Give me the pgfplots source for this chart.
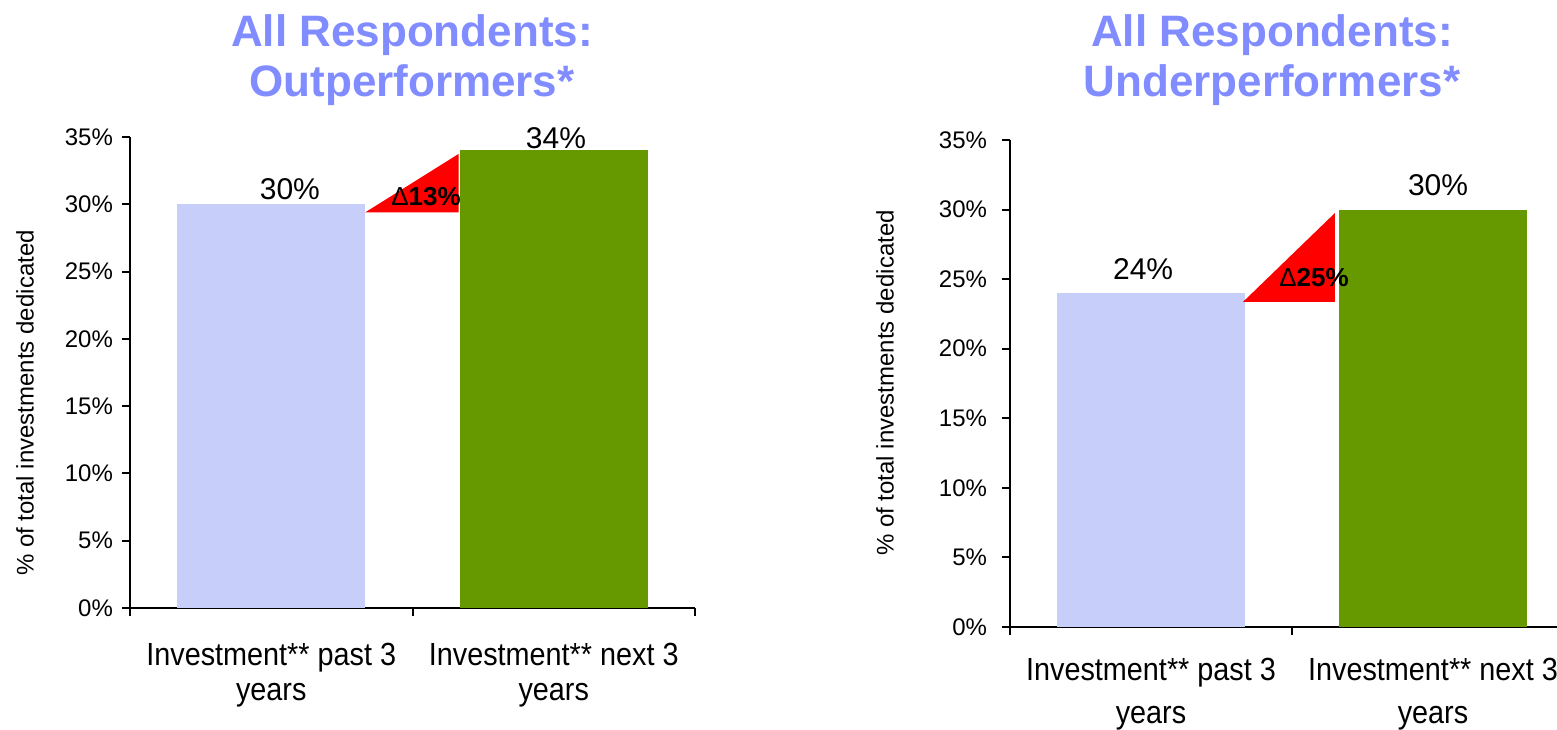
\documentclass[border=0pt]{standalone}
\usepackage{pgfplots}
\pgfplotsset{compat=1.18}
\usepackage{fontspec}
\setmainfont{Liberation Sans}
\newfontfamily\ticknarrow[FakeStretch=0.9]{Liberation Sans}
\definecolor{titleblue}{RGB}{128,140,255}
\definecolor{lav}{RGB}{200,206,250}
\definecolor{grn}{RGB}{102,153,0}
\pgfplotsset{mystyle/.style={
  scale only axis, xmin=-0.5, xmax=1.5, ymin=0, ymax=35,
  axis x line*=bottom, axis y line*=left,
  axis line style={black, line width=1pt},
  ytick={0,5,...,35},
  /pgf/number format/assume math mode=true,
  yticklabel={\pgfmathprintnumber{\tick}\%},
  xtick={0,1},
  minor xtick={-0.5,0.5,1.5},
  every major x tick/.append style={draw=none},
  tick align=outside, major tick length=4pt, minor tick length=4pt,
  tick style={black, line width=1pt},
  yticklabel style={font=\fontsize{12}{14}\selectfont},
  xticklabel style={font=\ticknarrow\fontsize{16}{17.5}\selectfont, align=center},
  clip=false,
}}
\begin{document}
\begin{tikzpicture}
\useasboundingbox (0pt,0pt) rectangle (778.5pt,364.5pt);
\clip (0pt,0pt) rectangle (778.5pt,364.5pt);
% titles
\node[anchor=base, font=\bfseries\fontsize{22}{25}\selectfont, text=titleblue] at (206pt,341pt) {All Respondents:};
\node[anchor=base, font=\bfseries\fontsize{22}{25}\selectfont, text=titleblue] at (206pt,316pt) {Outperformers*};
\node[anchor=base, font=\bfseries\fontsize{22}{25}\selectfont, text=titleblue] at (636pt,341pt) {All Respondents:};
\node[anchor=base, font=\bfseries\fontsize{22}{25}\selectfont, text=titleblue] at (636pt,316pt) {Underperformers*};
% y labels
\node[rotate=90, font=\fontsize{12}{14}\selectfont] at (12.5pt,163pt) {\% of total investments dedicated};
\node[rotate=90, font=\fontsize{12}{14}\selectfont] at (442.5pt,173pt) {\% of total investments dedicated};

\begin{axis}[mystyle, at={(65pt,60.5pt)}, anchor=south west, width=282.5pt, height=235.5pt,
  xticklabels={Investment** past 3\\years, Investment** next 3\\years},
  xticklabel style={yshift=-10pt},
  yticklabel style={xshift=-1pt}]
\addplot[ybar, bar width=0.665, bar shift=0, fill=lav, draw=none] coordinates {(0,30)};
\addplot[ybar, bar width=0.665, bar shift=0, fill=grn, draw=none] coordinates {(1,34)};
\fill[red] (axis cs:0.332,29.39) -- (axis cs:0.663,29.39) -- (axis cs:0.663,33.74) -- cycle;
\node[anchor=base, font=\fontsize{15}{18}\selectfont] at (axis cs:0.066,30.32) {30\%};
\node[anchor=base, font=\fontsize{15}{18}\selectfont] at (axis cs:1.008,34.11) {34\%};
\node[font=\fontsize{13}{15}\selectfont] at (axis cs:0.548,30.58) {Δ\textbf{13\%}};
\end{axis}

\begin{axis}[mystyle, at={(505pt,51pt)}, anchor=south west, width=282pt, height=243.5pt,
  xticklabels={Investment** past 3\\[4pt]years, Investment** next 3\\[4pt]years},
  xticklabel style={yshift=-8pt},
  yticklabel style={xshift=-4pt}]
\addplot[ybar, bar width=0.67, bar shift=0, fill=lav, draw=none] coordinates {(0,24)};
\addplot[ybar, bar width=0.67, bar shift=0, fill=grn, draw=none] coordinates {(1,30)};
\fill[red] (axis cs:0.326,23.36) -- (axis cs:0.652,23.36) -- (axis cs:0.652,29.75) -- cycle;
\node[anchor=base, font=\fontsize{15}{18}\selectfont] at (axis cs:-0.028,24.94) {24\%};
\node[anchor=base, font=\fontsize{15}{18}\selectfont] at (axis cs:1.018,30.98) {30\%};
\node[font=\fontsize{13}{15}\selectfont] at (axis cs:0.578,25.08) {Δ\textbf{25\%}};
\end{axis}
\end{tikzpicture}
\end{document}
